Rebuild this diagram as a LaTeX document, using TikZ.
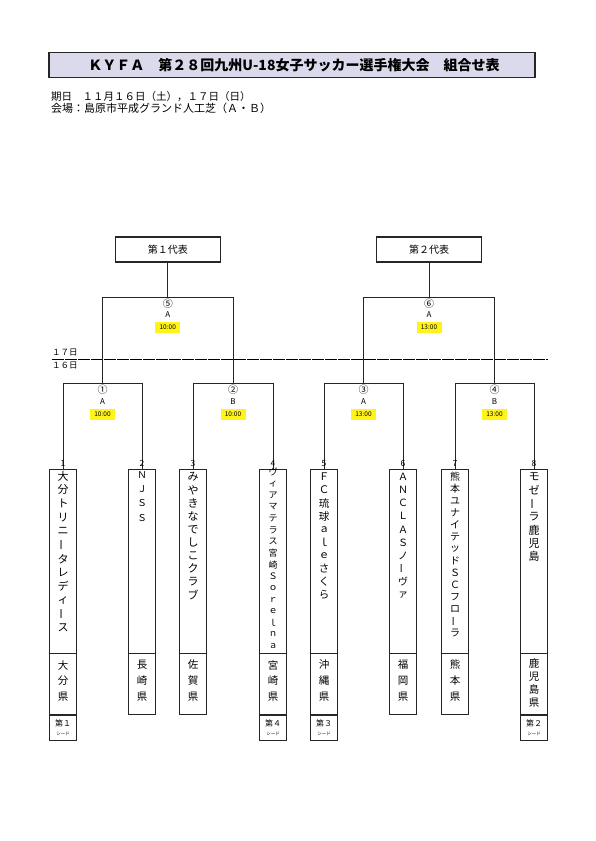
\documentclass[tikz,border=0pt]{standalone}
\usepackage{fontspec}
\setmainfont{Noto Sans CJK JP}
\newfontfamily\jp{Noto Sans CJK JP}
\newcommand\vbar{\rotatebox[origin=c]{90}{ー}}
\newcommand\vname[5]{%
  \foreach \c [count=\i] in {#5} {
    \node[font=\jp\fontsize{#4}{#4}\selectfont, inner sep=0pt] at (#1, {#2+(\i-1)*#3}) {\c};
  }%
}
\tikzset{
  line/.style={line width=0.9pt, draw=black!85},
  repbox/.style={draw=black!85, line width=1.2pt, minimum width=105pt, minimum height=25pt, inner sep=0pt, font=\jp\fontsize{10}{10}\selectfont},
  teambox/.style={draw=black!85, line width=1pt, minimum width=26.5pt, minimum height=245pt, anchor=north, inner sep=0pt},
  seedbox/.style={draw=black!85, line width=1pt, minimum width=26.5pt, minimum height=25pt, anchor=north, inner sep=0pt},
  circ/.style={font=\jp\fontsize{10}{10}\selectfont, inner sep=0pt},
  court/.style={font=\jp\fontsize{8}{8}\selectfont, inner sep=0pt},
  timelbl/.style={fill=yellow!90!white, font=\jp\fontsize{6.5}{6.5}\selectfont, minimum width=25pt, minimum height=11pt, inner sep=0pt},
  numlbl/.style={font=\jp\fontsize{8.5}{8.5}\selectfont, inner sep=0pt},
}
\begin{document}
\begin{tikzpicture}[x=1pt,y=-1pt]
\useasboundingbox[fill=white] (0,0) rectangle (595,841);
% title
\node[draw=black!85, line width=1.3pt, fill={rgb,255:red,218;green,218;blue,236}, minimum width=486pt, minimum height=25pt, inner sep=0pt] (title) at (292,65) {};
\node[font=\jp\bfseries\fontsize{14}{14}\selectfont, inner sep=0pt] (titletext) at (294,65) {ＫＹＦＡ　第２８回九州U-18女子サッカー選手権大会　組合せ表};
\node[anchor=west, font=\jp\fontsize{10.5}{10.5}\selectfont, inner sep=0pt] (info1) at (51,97) {期日　１１月１６日（土），１７日（日）};
\node[anchor=west, font=\jp\fontsize{11}{11}\selectfont, inner sep=0pt] (info2) at (51,108.5) {会場：島原市平成グランド人工芝（Ａ・Ｂ）};

% representative boxes
\node[repbox] (r1) at (167.75,249.5) {第１代表};
\node[repbox] (r2) at (429,249.5) {第２代表};

% day separator
\coordinate (dl) at (52,359);
\coordinate (dr) at (548,359);
\draw[line width=0.9pt, dash pattern=on 12pt off 1pt] (dl) -- (dr);
\node[anchor=west, font=\jp\fontsize{8.5}{8.5}\selectfont, inner sep=0pt] (d17) at (52,353) {１７日};
\node[anchor=west, font=\jp\fontsize{8.5}{8.5}\selectfont, inner sep=0pt] (d16) at (52,365.5) {１６日};

% semifinal brackets
\coordinate (f1) at (167.75,297);
\coordinate (f2) at (429,297);
\coordinate (s1L) at (102.5,297);
\coordinate (s1R) at (233,297);
\coordinate (s2L) at (363.5,297);
\coordinate (s2R) at (494.5,297);
\coordinate (q1) at (102.5,383);
\coordinate (q2) at (233,383);
\coordinate (q3) at (363.5,383);
\coordinate (q4) at (494.5,383);
\draw[line] (r1.south) -- (f1);
\draw[line] (r2.south) -- (f2);
\draw[line] (s1L) -- (s1R);
\draw[line] (s2L) -- (s2R);
\draw[line] (s1L) -- (q1);
\draw[line] (s1R) -- (q2);
\draw[line] (s2L) -- (q3);
\draw[line] (s2R) -- (q4);

% first round bracket corners
\coordinate (q1L) at (63,383);   \coordinate (q1R) at (142,383);
\coordinate (q2L) at (193,383);  \coordinate (q2R) at (273,383);
\coordinate (q3L) at (324,383);  \coordinate (q3R) at (403,383);
\coordinate (q4L) at (455,383);  \coordinate (q4R) at (534,383);
\draw[line] (q1L) -- (q1R);
\draw[line] (q2L) -- (q2R);
\draw[line] (q3L) -- (q3R);
\draw[line] (q4L) -- (q4R);

% team boxes
\node[teambox] (t1) at (63,469) {};
\node[teambox] (t2) at (142,469) {};
\node[teambox] (t3) at (193,469) {};
\node[teambox] (t4) at (273,469) {};
\node[teambox] (t5) at (324,469) {};
\node[teambox] (t6) at (403,469) {};
\node[teambox] (t7) at (455,469) {};
\node[teambox] (t8) at (534,469) {};
\draw[line] (q1L) -- (t1.north);
\draw[line] (q1R) -- (t2.north);
\draw[line] (q2L) -- (t3.north);
\draw[line] (q2R) -- (t4.north);
\draw[line] (q3L) -- (t5.north);
\draw[line] (q3R) -- (t6.north);
\draw[line] (q4L) -- (t7.north);
\draw[line] (q4R) -- (t8.north);
\foreach \t in {t1,t2,t3,t4,t5,t6,t7,t8} {
  \draw[line width=1pt, draw=black!85] (\t.west |- 0,653) -- (\t.east |- 0,653);
}

% seed boxes
\node[seedbox] (sd1) at (t1.south) {};
\node[seedbox] (sd4) at (t4.south) {};
\node[seedbox] (sd5) at (t5.south) {};
\node[seedbox] (sd8) at (t8.south) {};
\foreach \s/\n in {sd1/１,sd4/４,sd5/３,sd8/２} {
  \node[font=\jp\fontsize{8}{8}\selectfont, inner sep=0pt] at ([yshift=-8pt]\s.north) {第\n};
  \node[font=\jp\fontsize{4.5}{4.5}\selectfont, inner sep=0pt] at ([yshift=-19pt]\s.north) {シード};
}

% match labels
\node[circ] (c5) at (167.75,304) {⑤};
\node[court] (g5) at (167.75,315) {A};
\node[timelbl] (h5) at (167.75,327.5) {10:00};
\node[circ] (c6) at (429,304) {⑥};
\node[court] (g6) at (429,315) {A};
\node[timelbl] (h6) at (429,327.5) {13:00};
\node[circ] (c1) at (102.5,390) {①};
\node[court] (g1) at (102.5,402) {A};
\node[timelbl] (h1) at (102.5,414) {10:00};
\node[circ] (c2) at (233,390) {②};
\node[court] (g2) at (233,402) {B};
\node[timelbl] (h2) at (233,414) {10:00};
\node[circ] (c3) at (363.5,390) {③};
\node[court] (g3) at (363.5,402) {A};
\node[timelbl] (h3) at (363.5,414) {13:00};
\node[circ] (c4) at (494.5,390) {④};
\node[court] (g4) at (494.5,402) {B};
\node[timelbl] (h4) at (494.5,414) {13:00};

% numbers
\foreach \t/\n in {t1/1,t2/2,t3/3,t4/4,t5/5,t6/6,t7/7,t8/8} {
  \node[numlbl] at ([yshift=5.5pt]\t.north) {\n};
}

% team names (vertical)
\vname{63}{476}{13.8}{11}{大,分,ト,リ,ニ,\vbar,タ,レ,デ,ィ,\vbar,ス}
\vname{142}{475}{14.2}{9.5}{Ｎ,Ｊ,Ｓ,Ｓ}
\vname{193}{477}{13.1}{11}{み,や,き,な,で,し,こ,ク,ラ,ブ}
\vname{273}{472}{11.6}{9}{ヴ,ィ,ア,マ,テ,ラ,ス,宮,崎,Ｓ,ｏ,ｒ,ｅ,ｌ,ｎ,ａ}
\vname{324}{477}{13.1}{10.5}{Ｆ,Ｃ,琉,球,ａ,ｌ,ｅ,さ,く,ら}
\vname{403}{477}{13.1}{10}{Ａ,Ｎ,Ｃ,Ｌ,Ａ,Ｓ,ノ,\vbar,ヴ,ァ}
\vname{455}{477}{12}{10}{熊,本,ユ,ナ,イ,テ,ッ,ド,Ｓ,Ｃ,フ,ロ,\vbar,ラ}
\vname{534}{477}{13.3}{11}{モ,ゼ,\vbar,ラ,鹿,児,島}

% prefectures
\vname{63}{665}{16}{10.5}{大,分,県}
\vname{142}{665}{16}{10.5}{長,崎,県}
\vname{193}{665}{16}{10.5}{佐,賀,県}
\vname{273}{665}{16}{10.5}{宮,崎,県}
\vname{324}{665}{16}{10.5}{沖,縄,県}
\vname{403}{665}{16}{10.5}{福,岡,県}
\vname{455}{665}{16}{10.5}{熊,本,県}
\vname{534}{663}{13.3}{10.5}{鹿,児,島,県}
\end{tikzpicture}
\end{document}
